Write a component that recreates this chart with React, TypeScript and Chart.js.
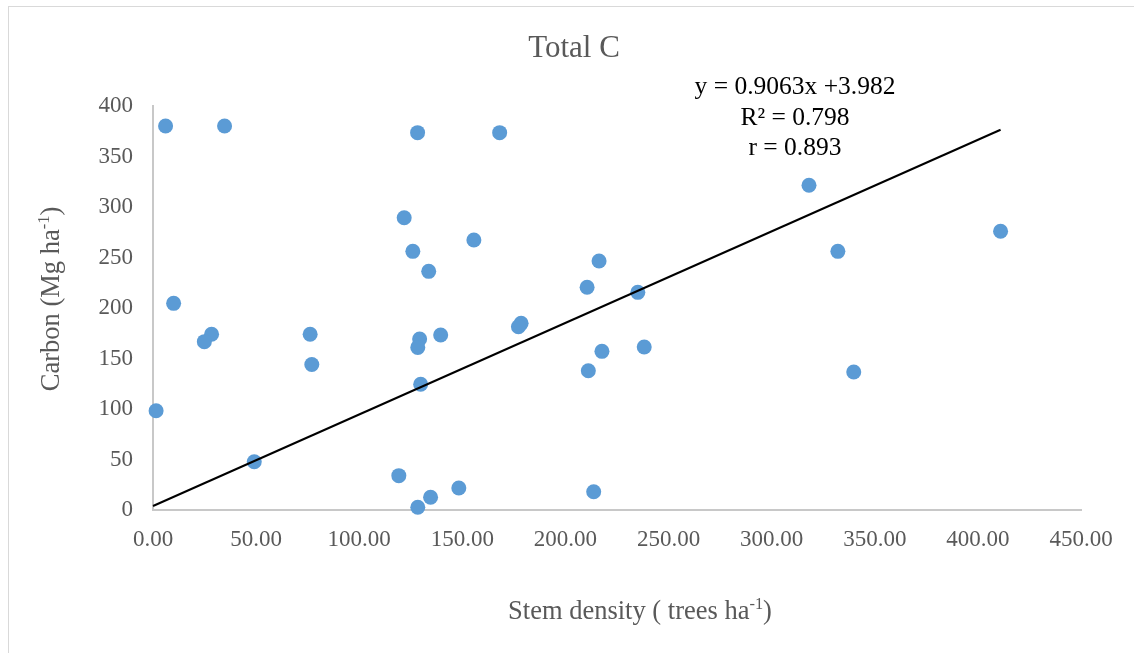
import React, { useEffect, useRef } from "react";
import { Chart, registerables } from "chart.js";

Chart.register(...registerables);

const stemDensity = [6.1, 34.7, 128.3, 168.1, 318.1, 121.8, 155.6, 126, 332.1, 411, 133.7, 216.3, 210.5, 235.1, 10, 28.4, 24.9, 76.2, 77, 129.3, 128.4, 139.5, 178.5, 177.2, 217.7, 238.2, 211.1, 339.8, 129.8, 1.5, 49.1, 119.2, 148.3, 134.6, 128.4, 213.7];
const carbon = [380.2, 380.2, 373.6, 373.6, 321.5, 289.4, 267.3, 256.1, 256.1, 276, 236.3, 246.5, 220.5, 215.5, 204.6, 174, 166.7, 174, 144, 169.3, 161, 173.3, 184.8, 181.5, 157.1, 161.4, 137.9, 136.6, 124.5, 98.3, 47.8, 34, 21.8, 12.6, 2.7, 18.1];
const slope = 0.9063;
const intercept = 3.982;
const equationLines = ["y = 0.9063x +3.982", "R² = 0.798", "r = 0.893"];
const titleText = "Total C";
const xTitle = ["Stem density ( trees ha", "-1", ")"];
const yTitle = ["Carbon (Mg ha", "-1", ")"];

const FONT = "'Liberation Serif', 'Times New Roman', serif";
const GRAY = "#595959";

function drawSup(ctx: CanvasRenderingContext2D, parts: string[], size: number) {
  ctx.font = `${size}px ${FONT}`;
  const w0 = ctx.measureText(parts[0]).width;
  const w2 = ctx.measureText(parts[2]).width;
  ctx.font = `${size * 0.62}px ${FONT}`;
  const w1 = ctx.measureText(parts[1]).width;
  const total = w0 + w1 + w2;
  let x = -total / 2;
  ctx.textAlign = "left";
  ctx.textBaseline = "alphabetic";
  ctx.font = `${size}px ${FONT}`;
  ctx.fillText(parts[0], x, 0);
  x += w0;
  ctx.font = `${size * 0.62}px ${FONT}`;
  ctx.fillText(parts[1], x, -size * 0.38);
  x += w1;
  ctx.font = `${size}px ${FONT}`;
  ctx.fillText(parts[2], x, 0);
}

const textPlugin = {
  id: "textPlugin",
  beforeDraw(chart: any) {
    const ctx = chart.ctx as CanvasRenderingContext2D;
    ctx.save();
    ctx.fillStyle = "#ffffff";
    ctx.fillRect(0, 0, chart.width, chart.height);
    ctx.strokeStyle = "#d9d9d9";
    ctx.lineWidth = 1;
    ctx.strokeRect(8.5, 6.5, chart.width + 20, chart.height + 20);
    ctx.restore();
  },
  afterDraw(chart: any) {
    const ctx = chart.ctx as CanvasRenderingContext2D;
    ctx.save();
    ctx.fillStyle = GRAY;
    ctx.font = `31px ${FONT}`;
    ctx.textAlign = "center";
    ctx.textBaseline = "alphabetic";
    ctx.fillText(titleText, 574, 57);

    ctx.fillStyle = "#000000";
    ctx.font = `25.5px ${FONT}`;
    equationLines.forEach((t, i) => ctx.fillText(t, 795, 94 + i * 30.5));

    ctx.fillStyle = GRAY;
    ctx.save();
    ctx.translate(640, 619);
    drawSup(ctx, xTitle, 26.5);
    ctx.restore();

    ctx.save();
    ctx.translate(59, 299);
    ctx.rotate(-Math.PI / 2);
    drawSup(ctx, yTitle, 26.5);
    ctx.restore();
    ctx.restore();
  },
};

export default function App() {
  const ref = useRef<HTMLCanvasElement>(null);
  useEffect(() => {
    if (!ref.current) return;
    const points = stemDensity.map((x, i) => ({ x, y: carbon[i] }));
    const xMax = Math.max(...stemDensity);
    const trend = [0, xMax].map((x) => ({ x, y: slope * x + intercept }));
    const chart = new Chart(ref.current, {
      type: "scatter",
      data: {
        datasets: [
          {
            data: trend,
            showLine: true,
            borderColor: "#000000",
            borderWidth: 2,
            pointRadius: 0,
            order: 0,
            clip: false,
          },
          {
            data: points,
            backgroundColor: "#5b9bd5",
            borderWidth: 0,
            pointRadius: 7.5,
            order: 1,
            clip: false,
          },
        ],
      },
      options: {
        animation: false,
        responsive: false,
        devicePixelRatio: 1,
        layout: { padding: { left: 0, right: 53, top: 106, bottom: 0 } },
        plugins: { legend: { display: false }, tooltip: { enabled: false }, title: { display: false } },
        scales: {
          x: {
            type: "linear",
            min: 0,
            max: 450,
            afterFit: (s: any) => { s.height = 143; },
            grid: { display: false, drawTicks: false, tickLength: 0 },
            border: { display: true, color: "#c8c8c8", width: 2 },
            ticks: {
              stepSize: 50,
              padding: 16,
              color: GRAY,
              font: { family: FONT, size: 23 },
              callback: (v: any) => Number(v).toFixed(2),
            },
          },
          y: {
            type: "linear",
            min: 0,
            max: 400,
            afterFit: (s: any) => { s.width = 153; },
            grid: { display: false, drawTicks: false, tickLength: 0 },
            border: { display: true, color: "#c8c8c8", width: 2 },
            ticks: {
              stepSize: 50,
              padding: 20,
              color: GRAY,
              font: { family: FONT, size: 23 },
            },
          },
        },
      },
      plugins: [textPlugin],
    } as any);
    return () => chart.destroy();
  }, []);
  return (
    <div style={{ position: "fixed", left: 0, top: 0, width: 1134, height: 653, background: "#fff" }}>
      <canvas ref={ref} width={1134} height={653} style={{ display: "block" }} />
    </div>
  );
}
